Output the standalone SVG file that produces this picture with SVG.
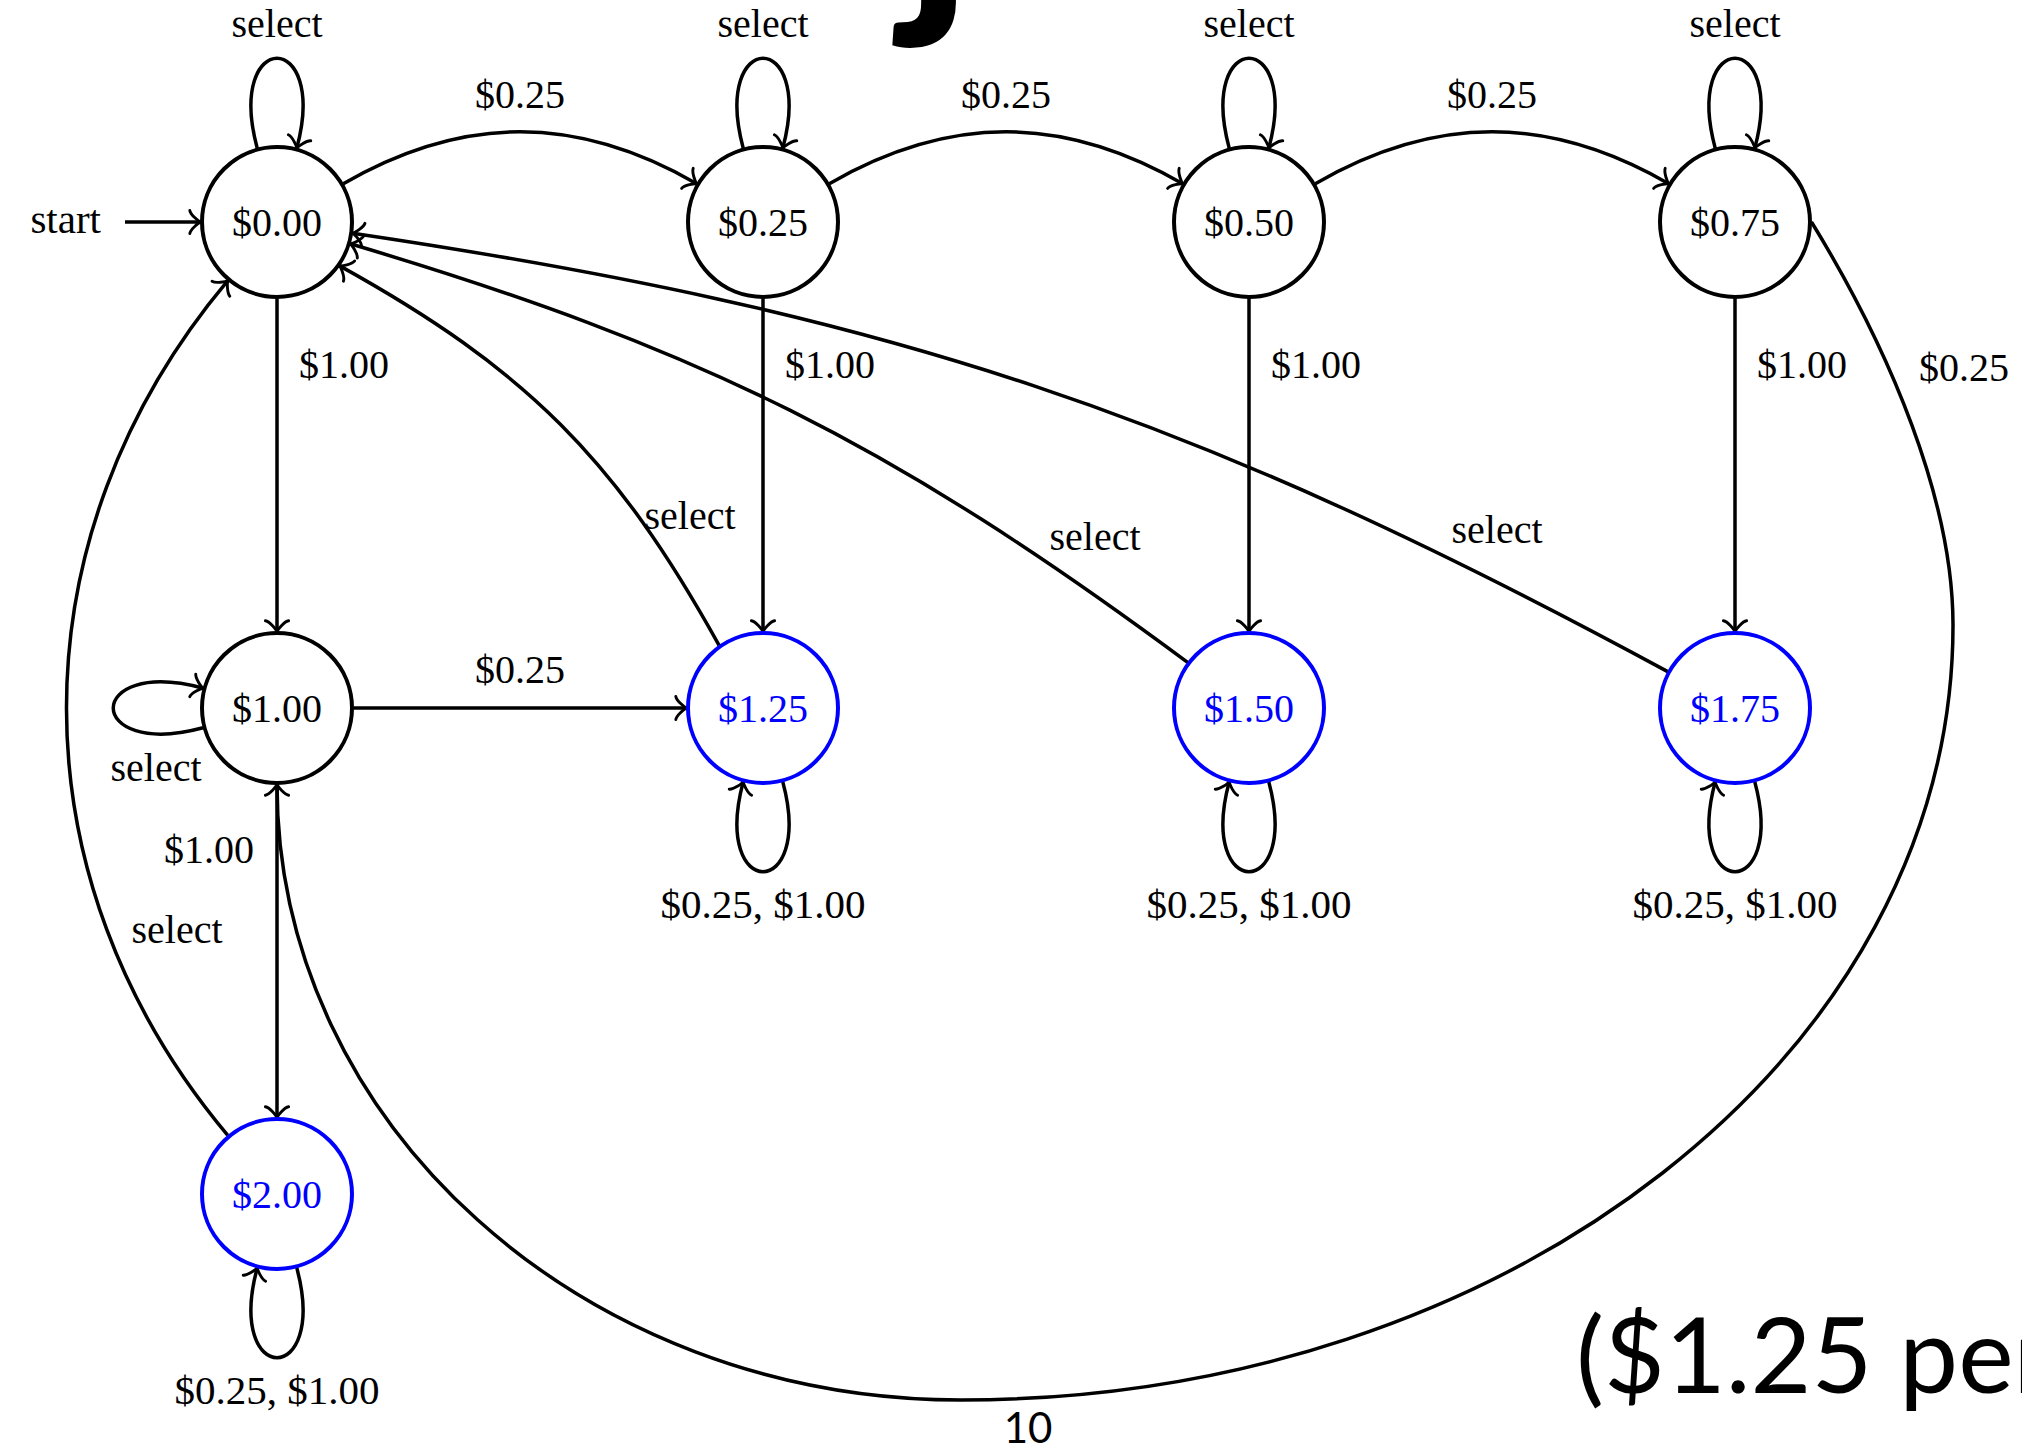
<svg xmlns="http://www.w3.org/2000/svg" width="2022" height="1449" viewBox="0 0 2022 1449">
  <defs>
    <style>
      .node { fill: #ffffff; stroke: #000000; stroke-width: 4; }
      .accept { fill: #ffffff; stroke: #0000ff; stroke-width: 4; }
      .name { font-family: "Liberation Serif", "Times New Roman", serif; font-size: 40px; text-anchor: middle; fill: #000000; }
      .accept-name { fill: #0000ff; }
      .edge { fill: none; stroke: #000000; stroke-width: 3.5; marker-end: url(#to); }
      .lbl { font-family: "Liberation Serif", "Times New Roman", serif; font-size: 40px; fill: #000000; }
      .wide { font-size: 41px; }
      .mid { text-anchor: middle; }
      .end { text-anchor: end; }
      .slide { font-family: Lato, "Open Sans", "Liberation Sans", sans-serif; fill: #000000; }
    </style>
    <!-- TikZ-style "to" arrow tip -->
    <marker id="to" markerUnits="userSpaceOnUse" orient="auto" overflow="visible" refX="2" refY="0" markerWidth="30" markerHeight="30">
      <path d="M -8.7 11.6 C -8 7.25 0 0.725 2.2 0 C 0 -0.725 -8 -7.25 -8.7 -11.6" fill="none" stroke="#000000" stroke-width="2.9" stroke-linecap="round" stroke-linejoin="round"/>
    </marker>
  </defs>

  <rect x="0" y="0" width="2022" height="1449" fill="#ffffff"/>

  <!-- slide decoration: title descender, footnote and page number -->
  <g id="slide-text">
    <text class="slide" x="903" y="-2.5" font-size="280" font-weight="bold">j</text>
    <text class="slide" x="1576" y="1393" font-size="105">($1.25 per</text>
    <text class="slide" x="1028" y="1443" font-size="42" text-anchor="middle">10</text>
  </g>

  <!-- transitions -->
  <g id="edges">
    <!-- initial arrow -->
    <path class="edge" d="M 125 222 L 200.5 222"/>

    <!-- self loops above the top row -->
    <path class="edge" d="M 257.2 148.1 C 225.1 28.3 328.9 28.3 296.8 148.1"/>
    <path class="edge" d="M 743.2 148.1 C 711.1 28.3 814.9 28.3 782.8 148.1"/>
    <path class="edge" d="M 1229.2 148.1 C 1197.1 28.3 1300.9 28.3 1268.8 148.1"/>
    <path class="edge" d="M 1715.2 148.1 C 1683.1 28.3 1786.9 28.3 1754.8 148.1"/>

    <!-- $0.25 arcs along the top row -->
    <path class="edge" d="M 343.3 183.75 C 463.1 114.55 576.9 114.55 696.7 183.75"/>
    <path class="edge" d="M 829.3 183.75 C 949.1 114.55 1062.9 114.55 1182.7 183.75"/>
    <path class="edge" d="M 1315.3 183.75 C 1435.1 114.55 1548.9 114.55 1668.7 183.75"/>

    <!-- $1.00 drops -->
    <path class="edge" d="M 277 298.5 L 277 631.5"/>
    <path class="edge" d="M 763 298.5 L 763 631.5"/>
    <path class="edge" d="M 1249 298.5 L 1249 631.5"/>
    <path class="edge" d="M 1735 298.5 L 1735 631.5"/>

    <!-- $1.00 -> $1.25 -->
    <path class="edge" d="M 353.5 708 L 686.5 708"/>

    <!-- $1.00 -> $2.00 -->
    <path class="edge" d="M 277 784.5 L 277 1117.5"/>

    <!-- select: back to $0.00 -->
    <path class="edge" d="M 719.1 645.3 C 615.8 458.9 526.1 369.2 339.7 265.9"/>
    <path class="edge" d="M 1187.6 662.4 C 893.2 444.1 701.6 348.3 350.3 243.8"/>
    <path class="edge" d="M 1667.7 671.6 C 1190.5 413.2 889.5 312.8 352.7 233.2"/>
    <path class="edge" d="M 227.8 1135.4 C 12.7 879 12.7 537 227.8 280.6"/>

    <!-- $0.75 -> $1.00 on $0.25 -->
    <path class="edge" d="M 1811.5 222 C 1890 350 1953 500 1953 625 C 1953 1053 1509 1400 961 1400 C 583 1400 277 1124 277 784.5"/>

    <!-- self loop left of $1.00 -->
    <path class="edge" d="M 203.1 727.8 C 83.3 759.9 83.3 656.1 203.1 688.2"/>

    <!-- self loops below the accepting states -->
    <path class="edge" d="M 782.8 781.9 C 814.9 901.7 711.1 901.7 743.2 781.9"/>
    <path class="edge" d="M 1268.8 781.9 C 1300.9 901.7 1197.1 901.7 1229.2 781.9"/>
    <path class="edge" d="M 1754.8 781.9 C 1786.9 901.7 1683.1 901.7 1715.2 781.9"/>
    <path class="edge" d="M 296.8 1267.9 C 328.9 1387.7 225.1 1387.7 257.2 1267.9"/>
  </g>

  <!-- transition labels -->
  <g id="edge-labels">
    <text class="lbl end wide" x="101" y="233">start</text>

    <text class="lbl mid" x="277" y="37">select</text>
    <text class="lbl mid" x="763" y="37">select</text>
    <text class="lbl mid" x="1249" y="37">select</text>
    <text class="lbl mid" x="1735" y="37">select</text>

    <text class="lbl mid" x="520" y="108">$0.25</text>
    <text class="lbl mid" x="1006" y="108">$0.25</text>
    <text class="lbl mid" x="1492" y="108">$0.25</text>

    <text class="lbl" x="299" y="378">$1.00</text>
    <text class="lbl" x="785" y="378">$1.00</text>
    <text class="lbl" x="1271" y="378">$1.00</text>
    <text class="lbl" x="1757" y="378">$1.00</text>

    <text class="lbl" x="1919" y="381">$0.25</text>

    <text class="lbl mid" x="690" y="529">select</text>
    <text class="lbl mid" x="1095" y="550">select</text>
    <text class="lbl mid" x="1497" y="543">select</text>

    <text class="lbl mid" x="520" y="683">$0.25</text>
    <text class="lbl mid" x="156" y="781">select</text>
    <text class="lbl end" x="254" y="863">$1.00</text>
    <text class="lbl mid" x="177" y="943">select</text>

    <text class="lbl mid wide" x="763" y="918">$0.25, $1.00</text>
    <text class="lbl mid wide" x="1249" y="918">$0.25, $1.00</text>
    <text class="lbl mid wide" x="1735" y="918">$0.25, $1.00</text>
    <text class="lbl mid wide" x="277" y="1404">$0.25, $1.00</text>
  </g>

  <!-- states -->
  <g id="s000">
    <circle class="node" cx="277" cy="222" r="75"/>
    <text class="name" x="277" y="236">$0.00</text>
  </g>
  <g id="s025">
    <circle class="node" cx="763" cy="222" r="75"/>
    <text class="name" x="763" y="236">$0.25</text>
  </g>
  <g id="s050">
    <circle class="node" cx="1249" cy="222" r="75"/>
    <text class="name" x="1249" y="236">$0.50</text>
  </g>
  <g id="s075">
    <circle class="node" cx="1735" cy="222" r="75"/>
    <text class="name" x="1735" y="236">$0.75</text>
  </g>
  <g id="s100">
    <circle class="node" cx="277" cy="708" r="75"/>
    <text class="name" x="277" y="722">$1.00</text>
  </g>
  <g id="s125">
    <circle class="accept" cx="763" cy="708" r="75"/>
    <text class="name accept-name" x="763" y="722">$1.25</text>
  </g>
  <g id="s150">
    <circle class="accept" cx="1249" cy="708" r="75"/>
    <text class="name accept-name" x="1249" y="722">$1.50</text>
  </g>
  <g id="s175">
    <circle class="accept" cx="1735" cy="708" r="75"/>
    <text class="name accept-name" x="1735" y="722">$1.75</text>
  </g>
  <g id="s200">
    <circle class="accept" cx="277" cy="1194" r="75"/>
    <text class="name accept-name" x="277" y="1208">$2.00</text>
  </g>
</svg>
